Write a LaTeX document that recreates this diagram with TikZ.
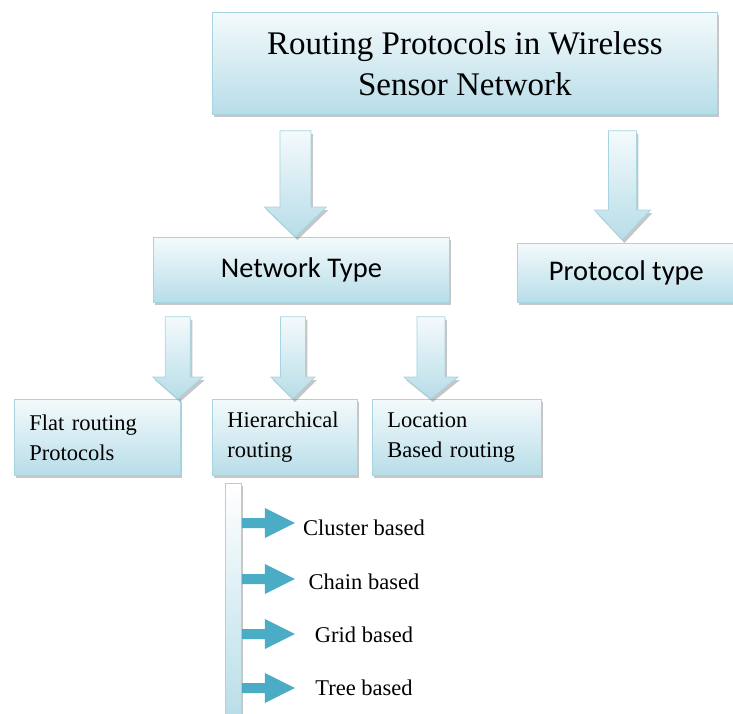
\documentclass[tikz,border=0pt]{standalone}
\usepackage{fontspec}
\setmainfont{Liberation Serif}
\newfontfamily\calib{Carlito}
\usetikzlibrary{calc,shadows}
\definecolor{bfill}{HTML}{B7DDE8}
\definecolor{btop}{HTML}{F4FAFC}
\definecolor{bline}{HTML}{A6D4E1}
\definecolor{aqua}{HTML}{4BACC6}
\begin{document}
\begin{tikzpicture}[x=1pt,y=-1pt,
  shd/.style={drop shadow={shadow xshift=2pt,shadow yshift=-3pt,fill=black!50,opacity=.45}},
  box/.style={shd,draw=bline,line width=.8pt,top color=btop,bottom color=bfill,anchor=north west,inner sep=0pt},
  rbox/.style={box,text width=#1,inner xsep=15pt,align=left,minimum height=76pt,font=\fontsize{22.5}{30}\selectfont},
  lab/.style={minimum width=138pt,inner sep=0pt,font=\fontsize{22.5}{27}\selectfont},
  fat/.style n args={3}{to path={let \p1=($(\tikztotarget)!#3!(\tikztostart)$) in
    ($(\tikztostart)!#1!90:(\tikztotarget)$) -- ($(\p1)!#1!-90:(\tikztostart)$)
    -- ($(\p1)!#2!-90:(\tikztostart)$) -- (\tikztotarget)
    -- ($(\p1)!#2!90:(\tikztostart)$) -- ($(\p1)!#1!90:(\tikztostart)$)
    -- ($(\tikztostart)!#1!-90:(\tikztotarget)$) -- cycle}},
  blk/.style n args={3}{shd,draw=bline,line width=.8pt,top color=btop,bottom color=bfill,fat={#1}{#2}{#3}},
  rarr/.style={fill=aqua,fat={5pt}{15pt}{30pt}}]
\useasboundingbox (0,0) rectangle (733,713);
\node[box,minimum width=505pt,minimum height=102pt,align=center,font=\fontsize{33}{41}\selectfont] (rp) at (212,12)
  {Routing Protocols in Wireless\\Sensor Network};
\node[box,minimum width=296pt,minimum height=65pt,font=\calib\fontsize{28.5}{34}\selectfont] (nt) at (153,237) {Network Type};
\node[box,minimum width=218pt,minimum height=59pt,font=\calib\fontsize{28.5}{34}\selectfont] (pt) at (517,243) {Protocol type};
\node[rbox=136pt] (fr) at (14,399) {Flat routing\\Protocols};
\node[rbox=115pt] (hr) at (212,399) {Hierarchical\\routing};
\node[rbox=139pt] (lb) at (372,399) {Location\\Based routing};
\node[box,minimum width=16pt,minimum height=240pt,top color=white] (br) at (225,483) {};
\node[lab] (cb) at (364,528) {Cluster based};
\node[lab] (chb) at (364,582) {Chain based};
\node[lab] (gb) at (364,635) {Grid based};
\node[lab] (tb) at (364,688) {Tree based};
\draw[blk={15.5pt}{31pt}{30pt}] ($(rp.south -| nt.north)+(-6,16)$) to ($(nt.north)+(-6,0)$);
\draw[blk={14pt}{28pt}{30pt}] ($(rp.south -| pt.north)+(-4,16)$) to ($(pt.north)+(-4,-3)$);
\draw[blk={12.5pt}{25pt}{22pt}] ($(nt.south -| fr.north east)+(-3,14)$) to ($(fr.north east)+(-3,0)$);
\draw[blk={12.5pt}{22pt}{22pt}] ($(nt.south -| hr.north)+(8,14)$) to ($(hr.north)+(8,0)$);
\draw[blk={14pt}{27pt}{22pt}] ($(nt.south -| lb.north)+(-26,14)$) to ($(lb.north)+(-26,0)$);
\path[rarr] ($(br.east |- cb.west)+(0,-5)$) to ($(cb.west)+(0,-5)$);
\path[rarr] ($(br.east |- chb.west)+(0,-3)$) to ($(chb.west)+(0,-3)$);
\path[rarr] ($(br.east |- gb.west)+(0,-1)$) to ($(gb.west)+(0,-1)$);
\path[rarr] (br.east |- tb.west) to (tb.west);
\end{tikzpicture}
\end{document}
